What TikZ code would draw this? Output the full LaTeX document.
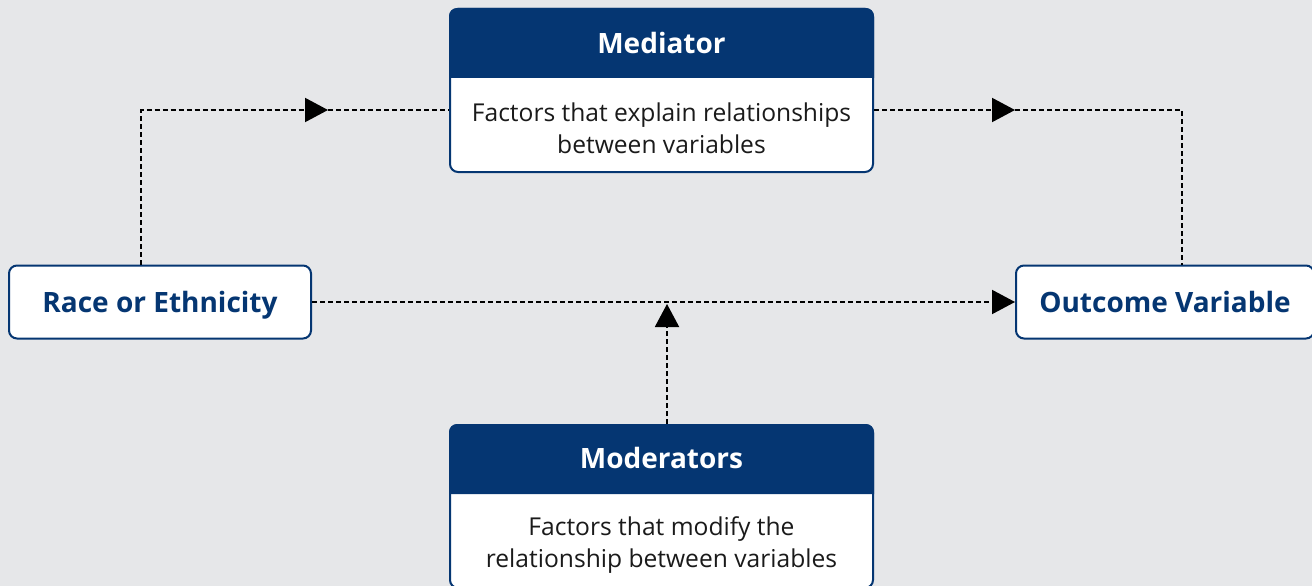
\documentclass[tikz,border=0pt]{standalone}
\usepackage{fontspec}
\setmainfont{Open Sans}
\usetikzlibrary{arrows.meta}
\definecolor{navy}{HTML}{053672}
\definecolor{bgc}{HTML}{E6E7E9}
\definecolor{txt}{HTML}{1A1A1A}
\tikzset{
  cbox/.style={draw=navy, line width=2pt, fill=white, rounded corners=8pt, inner sep=0pt},
  hdr/.style={fill=navy},
  ttl/.style={text=white, font=\bfseries\fontsize{28}{32}\selectfont, text height=24pt, text depth=3pt},
  lbl/.style={text=navy, font=\bfseries\fontsize{28}{32}\selectfont, text height=24pt, text depth=3pt},
  body/.style={text=txt, align=center, font=\fontsize{24.6}{32}\selectfont},
  conn/.style={line width=2pt, dash pattern=on 5pt off 3pt},
  tip/.style={-{Triangle[length=23pt,width=24pt]}},
}
\begin{document}
\begin{tikzpicture}[x=1pt,y=-1pt]
\useasboundingbox (0,0) rectangle (1312,586);
\fill[bgc] (0,0) rectangle (1312,586);

% boxes
\node[cbox, minimum width=423pt, minimum height=163pt] (med) at (661.5,90.5) {};
\fill[hdr, rounded corners=8pt] ([yshift=-70pt]med.north west) -- (med.north west) -- (med.north east) [sharp corners] -- ([yshift=-70pt]med.north east) -- cycle;
\node[ttl] (medt) at (661.5,43) {Mediator};
\node[body] (medb) at (661.5,128) {Factors that explain relationships\\between variables};

\node[cbox, minimum width=423pt, minimum height=163pt] (mod) at (661.5,506.5) {};
\fill[hdr, rounded corners=8pt] ([yshift=-70pt]mod.north west) -- (mod.north west) -- (mod.north east) [sharp corners] -- ([yshift=-70pt]mod.north east) -- cycle;
\node[ttl] (modt) at (661.5,458) {Moderators};
\node[body] (modb) at (661.5,545) {Factors that modify the\\relationship between variables};

\node[cbox, lbl, minimum width=302pt, minimum height=73pt] (race) at (160,302) {Race or Ethnicity};
\node[cbox, lbl, minimum width=298pt, minimum height=73pt] (out) at (1165,302) {Outcome Variable};

% connector helper points
\coordinate (a1) at (328,110);
\coordinate (a2) at (1015,110);
\coordinate (a3) at (667,304);

% connectors
\draw[conn, tip] (race.north -| 141,0) |- (a1);
\draw[conn] (a1) -- (med.west |- a1);
\draw[conn, tip] (med.east |- a2) -- (a2);
\draw[conn] (a2) -| (out.north -| 1182,0);
\draw[conn, tip] (race.east) -- (out.west);
\draw[conn, tip] (mod.north -| a3) -- (a3);
\end{tikzpicture}
\end{document}
